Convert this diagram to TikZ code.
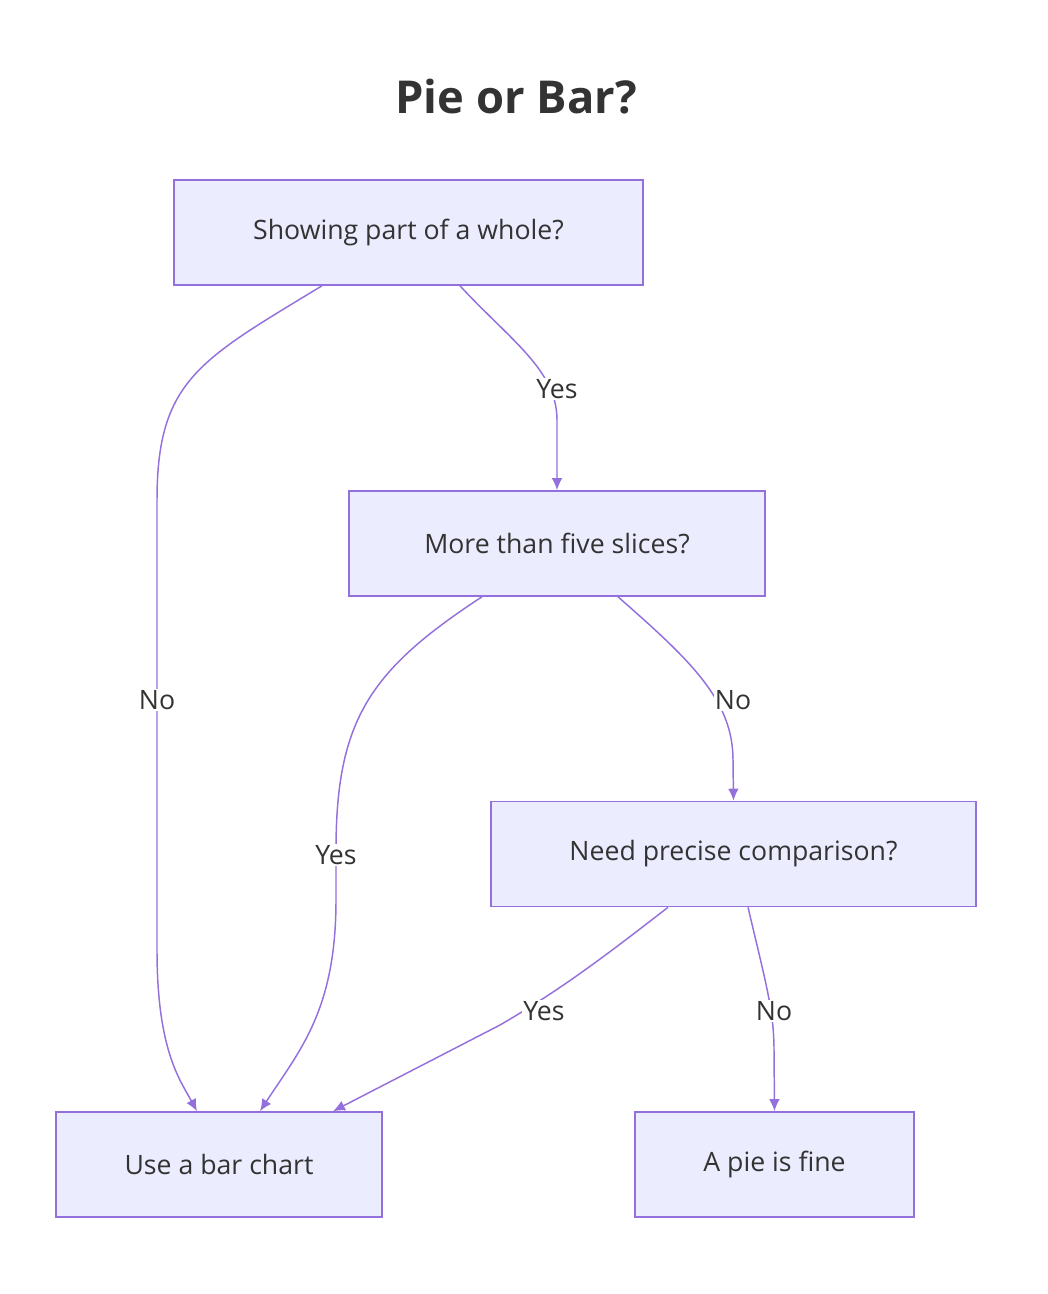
\documentclass[tikz,border=0pt]{standalone}
\usepackage{fontspec}
\setmainfont{Open Sans}
\usetikzlibrary{positioning,arrows.meta}
\definecolor{boxfill}{HTML}{ECECFF}
\definecolor{boxline}{HTML}{9370DB}
\definecolor{ink}{HTML}{333333}
\tikzset{
  stepbox/.style={draw=boxline,fill=boxfill,line width=1.2pt,text=ink,
    minimum height=78.75pt,inner sep=0pt,font=\fontsize{20}{24}\selectfont},
  flow/.style={draw=boxline,line width=1.1pt,-{Latex[length=9pt,width=8pt]}},
  lbl/.style={fill=white,text=ink,inner sep=1pt,font=\fontsize{20}{24}\selectfont}
}
\begin{document}
\begin{tikzpicture}[x=0.75pt,y=-0.75pt]
  \useasboundingbox (0,0) rectangle (1048,1294);
  \node[text=ink,font=\fontsize{34}{40}\selectfont\bfseries] (title) at (516,97) {Pie or Bar?};
  % decision boxes
  \node[stepbox,minimum width=351.75pt] (whole) at (408.5,232.5) {Showing part of a whole?};
  \node[stepbox,minimum width=312pt] (slices) at (557,543.5) {More than five slices?};
  \node[stepbox,minimum width=363.75pt] (precise) at (733.5,854) {Need precise comparison?};
  \node[stepbox,minimum width=244.5pt] (bar) at (219,1164.5) {Use a bar chart};
  \node[stepbox,minimum width=209.25pt] (pie) at (774.5,1164.5) {A pie is fine};
  % connectors
  \draw[flow] ([xshift=-64.9pt]whole.south) .. controls (200,360) and (157,380) .. (157,500)
    -- (157,950) .. controls (157,1050) and (180,1080) .. ([xshift=-16.5pt]bar.north);
  \draw[flow] ([xshift=38.6pt]whole.south) .. controls (510,340) and (557,370) .. (557,420)
    -- (slices.north);
  \draw[flow] ([xshift=-56.25pt]slices.south) .. controls (370,670) and (336,720) .. (336,850)
    -- (336,900) .. controls (336,1010) and (300,1050) .. ([xshift=30.75pt]bar.north);
  \draw[flow] ([xshift=45.75pt]slices.south) .. controls (690,660) and (733,700) .. (733,760)
    -- (precise.north);
  \draw[flow] ([xshift=-49.1pt]precise.south) .. controls (600,960) and (560,990) .. (500,1025)
    -- ([xshift=85.5pt]bar.north);
  \draw[flow] ([xshift=10.9pt]precise.south) .. controls (765,980) and (774,1010) .. (774,1050)
    -- (pie.north);
  % edge labels
  \node[lbl] (lno1) at (157,700) {No};
  \node[lbl] (lyes1) at (557,389) {Yes};
  \node[lbl] (lyes2) at (336,855) {Yes};
  \node[lbl] (lno2) at (733,700) {No};
  \node[lbl] (lyes3) at (544,1011) {Yes};
  \node[lbl] (lno3) at (774,1011) {No};
\end{tikzpicture}
\end{document}
